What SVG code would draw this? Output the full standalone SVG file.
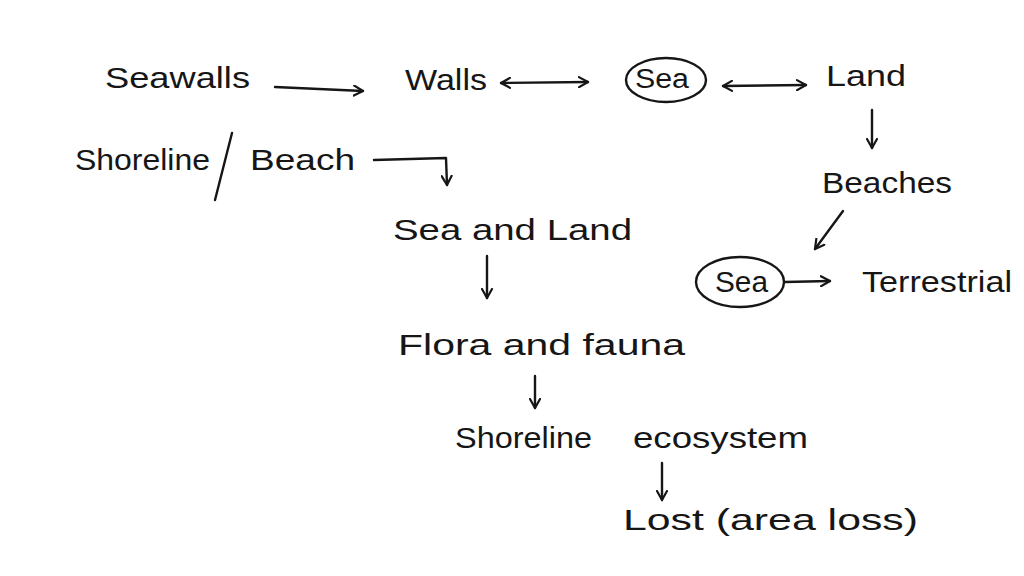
<svg xmlns="http://www.w3.org/2000/svg" width="1024" height="576" viewBox="0 0 1024 576">
<style>
text{font-family:"Liberation Sans","DejaVu Sans",sans-serif;font-size:30px;fill:#161616}
.s{font-size:27px}
.c{fill:none;stroke:#161616;stroke-width:2.4;stroke-linecap:round;stroke-linejoin:round}
</style>
<defs>
<marker id="ah" viewBox="0 0 12 12" refX="10" refY="6" markerWidth="12" markerHeight="12" markerUnits="userSpaceOnUse" orient="auto-start-reverse">
<path d="M1,1 L10,6 L1,11" fill="none" stroke="#161616" stroke-width="2.2" stroke-linecap="round" stroke-linejoin="round"/>
</marker>
</defs>
<rect width="1024" height="576" fill="#fff"/>
<g id="seawalls"><text x="105" y="88" textLength="145" lengthAdjust="spacingAndGlyphs">Seawalls</text></g>
<g id="walls"><text x="405" y="90" textLength="82" lengthAdjust="spacingAndGlyphs">Walls</text></g>
<g id="sea1"><ellipse class="c" cx="666" cy="80" rx="40" ry="22"/><text class="s" x="635" y="88" textLength="54" lengthAdjust="spacingAndGlyphs">Sea</text></g>
<g id="land"><text x="826" y="86" textLength="80" lengthAdjust="spacingAndGlyphs">Land</text></g>
<g id="beaches"><text x="822" y="193" textLength="130" lengthAdjust="spacingAndGlyphs">Beaches</text></g>
<g id="sea2"><ellipse class="c" cx="740" cy="282" rx="44" ry="25"/><text x="715" y="292" textLength="53" lengthAdjust="spacingAndGlyphs">Sea</text></g>
<g id="terrestrial"><text x="862" y="292" textLength="150" lengthAdjust="spacingAndGlyphs">Terrestrial</text></g>
<g id="shoreline-beach"><text x="75" y="170" textLength="135" lengthAdjust="spacingAndGlyphs">Shoreline</text><path class="c" d="M232,133 L215,200"/><text x="250" y="170" textLength="105" lengthAdjust="spacingAndGlyphs">Beach</text></g>
<g id="sea-and-land"><text x="393" y="240" textLength="239" lengthAdjust="spacingAndGlyphs">Sea and Land</text></g>
<g id="flora-fauna"><text x="398" y="355" textLength="287" lengthAdjust="spacingAndGlyphs">Flora and fauna</text></g>
<g id="shoreline-ecosystem"><text x="455" y="448" textLength="137" lengthAdjust="spacingAndGlyphs">Shoreline</text><text x="633" y="448" textLength="175" lengthAdjust="spacingAndGlyphs">ecosystem</text></g>
<g id="lost"><text x="623" y="530" textLength="295" lengthAdjust="spacingAndGlyphs">Lost (area loss)</text></g>
<g id="connectors">
<path class="c" marker-end="url(#ah)" d="M275,87 L363,91"/>
<path class="c" marker-start="url(#ah)" marker-end="url(#ah)" d="M501,83 L588,82"/>
<path class="c" marker-start="url(#ah)" marker-end="url(#ah)" d="M723,86 L806,85"/>
<path class="c" marker-end="url(#ah)" d="M872,110 L872,148"/>
<path class="c" marker-end="url(#ah)" d="M843,211 L815,249"/>
<path class="c" marker-end="url(#ah)" d="M785,282 L830,281"/>
<path class="c" marker-end="url(#ah)" d="M374,160 L446,158 L447,185"/>
<path class="c" marker-end="url(#ah)" d="M487,256 L487,298"/>
<path class="c" marker-end="url(#ah)" d="M535,376 L535,408"/>
<path class="c" marker-end="url(#ah)" d="M662,463 L662,500"/>
</g>
</svg>
